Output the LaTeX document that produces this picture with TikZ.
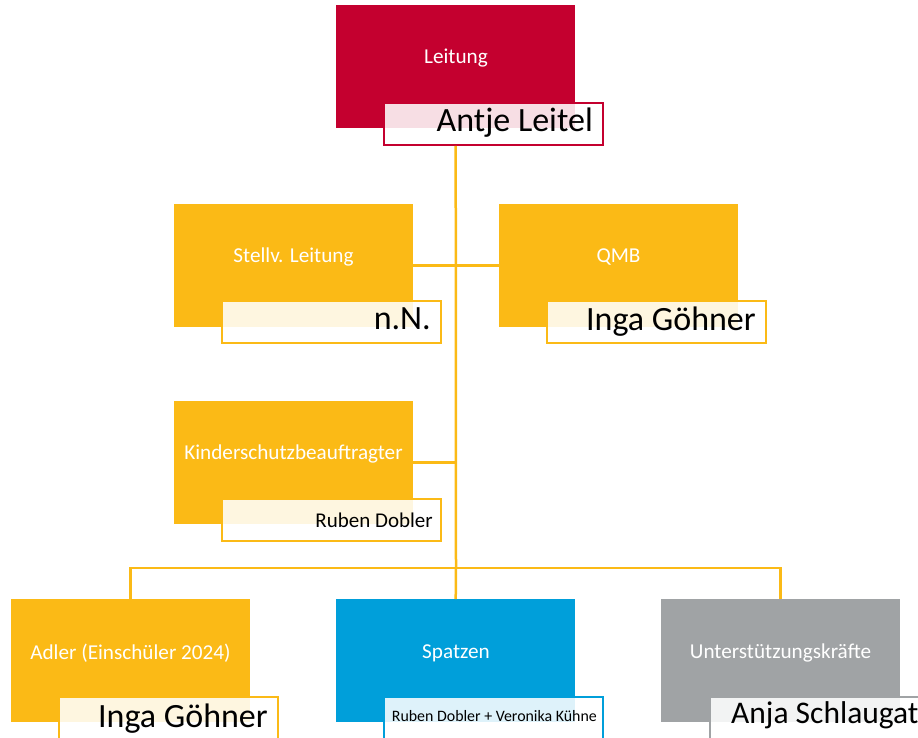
\documentclass[tikz,border=0pt]{standalone}
\usepackage{fontspec}
\setmainfont{Carlito}
\definecolor{kred}{HTML}{C4002F}
\definecolor{korange}{HTML}{FBBA16}
\definecolor{kblue}{HTML}{009FDA}
\definecolor{kgrey}{HTML}{A0A3A5}
\begin{document}
\begin{tikzpicture}[x=1pt,y=-1pt,
  unit/.style={draw=none, fill=#1, minimum width=239pt, minimum height=123pt, inner sep=0pt, anchor=north west},
  namebox/.style={draw=#1, line width=2pt, fill=white, fill opacity=0.87, minimum width=219pt, minimum height=42pt, inner sep=0pt, anchor=north west},
  lbl/.style={text=white, font=\fontsize{21.2}{25}\selectfont, inner sep=0pt},
  nm/.style={text=black, font=\fontsize{34}{39}\selectfont, inner sep=0pt, anchor=base east},
  nmsmall/.style={nm, font=\fontsize{21}{25}\selectfont},
  nmtiny/.style={nm, font=\fontsize{15.9}{19}\selectfont},
  conn/.style={draw=korange, line width=2.5pt}]
\useasboundingbox (0,0) rectangle (918,738);
\clip (0,0) rectangle (918,738);

% units
\node[unit=kred]    (leitung) at (336,5) {};
\node[unit=korange] (stellv)  at (174,204) {};
\node[unit=korange] (qmb)     at (499,204) {};
\node[unit=korange] (kinder)  at (174,401) {};
\node[unit=korange] (adler)   at (11,599) {};
\node[unit=kblue]   (spatzen) at (336,599) {};
\node[unit=kgrey]   (unter)   at (661,599) {};

% unit labels
\node[lbl] (leitungL) at (456,58)  {Leitung};
\node[lbl] (stellvL)  at (293.5,257) {Stellv. Leitung};
\node[lbl] (qmbL)     at (618.5,257) {QMB};
\node[lbl] (kinderL)  at (293.5,454) {Kinderschutzbeauftragter};
\node[lbl] (adlerL)   at (130.5,653) {Adler (Einschüler 2024)};
\node[lbl] (spatzenL) at (456,653) {Spatzen};
\node[lbl] (unterL)   at (780.5,653) {Unterstützungskräfte};

% name boxes
\node[namebox=kred]    (leitN)    at (383,102) {};
\node[namebox=korange] (stellvN)  at (221,300) {};
\node[namebox=korange] (qmbN)     at (546,300) {};
\node[namebox=korange] (kinderN)  at (221,498) {};
\node[namebox=korange] (adlerN)   at (58,696) {};
\node[namebox=kblue]   (spatzenN) at (383,696) {};
\node[namebox=kgrey]   (unterN)   at (709,696) {};

% names
\node[nm] (leitT)    at (593,132) {Antje Leitel};
\node[nm] (stellvT)  at (431,329) {n.N.};
\node[nm] (qmbT)     at (756,330) {Inga Göhner};
\node[nmsmall] (kinderT) at (433,527) {Ruben Dobler};
\node[nm] (adlerT)   at (268,727) {Inga Göhner};
\node[nmtiny] (spatzenT) at (597,721) {Ruben Dobler + Veronika Kühne};
\node[nm, font=\fontsize{31.5}{36}\selectfont, anchor=base west] (unterT) at (731,723) {Anja Schlaugat};

% connectors
\coordinate (bus) at (456,568);
\draw[conn] (leitung.south |- leitN.south) -- (bus);
\draw[conn] (stellv.east) -- (qmb.west);
\draw[conn] (kinder.east) -- (kinder.east -| bus);
\draw[conn] (adler.north) |- (bus) -| (unter.north);
\draw[conn] (bus) -- (spatzen.north);
\end{tikzpicture}
\end{document}
